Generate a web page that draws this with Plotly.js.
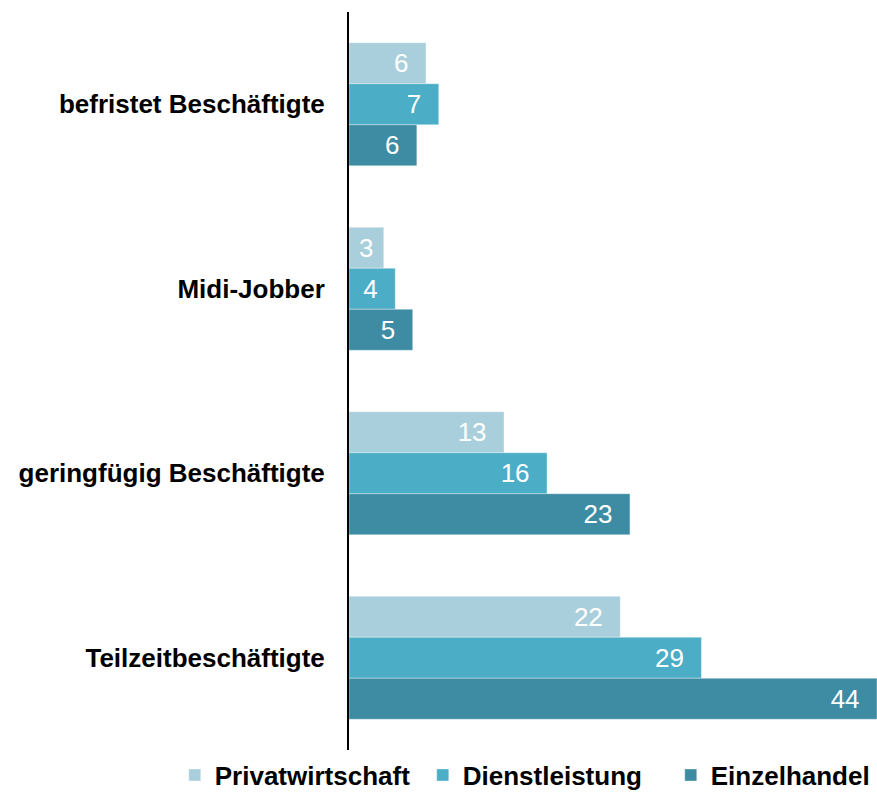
<!DOCTYPE html>
<html>
<head>
<meta charset="utf-8">
<script src="https://cdn.plot.ly/plotly-3.0.1.min.js"></script>
<style>html,body{margin:0;padding:0;background:#fff;}#chart{width:877px;height:792px;}</style>
</head>
<body>
<div id="chart"></div>
<script>
const categories = ['befristet Beschäftigte', 'Midi-Jobber', 'geringfügig Beschäftigte', 'Teilzeitbeschäftigte'];
const seriesNames = ['Privatwirtschaft', 'Dienstleistung', 'Einzelhandel'];
const privatwirtschaft = [6.36, 2.87, 12.8, 22.4];
const dienstleistung = [7.41, 3.82, 16.35, 29.1];
const einzelhandel = [5.6, 5.26, 23.2, 43.6];
const colors = ['#aacfdc', '#4badc6', '#3e8ca3'];

const FONT = 'Liberation Sans, Arial, sans-serif';
const NB = '\u00a0';

function labels(vals) {
  return vals.map(v => Math.round(v) + (v < 3.5 ? NB : NB + NB));
}

const allSeries = [privatwirtschaft, dienstleistung, einzelhandel];
const traces = allSeries.map((vals, i) => ({
  type: 'bar',
  orientation: 'h',
  name: seriesNames[i],
  y: categories,
  x: vals,
  text: labels(vals),
  texttemplate: '%{text}',
  textposition: 'inside',
  insidetextanchor: 'end',
  constraintext: 'none',
  textangle: 0,
  textfont: {family: FONT, size: 26, color: '#ffffff'},
  marker: {color: colors[i], line: {color: 'rgba(255,255,255,0.35)', width: 1}},
  hoverinfo: 'x+y+name'
}));

const layout = {
  width: 877,
  height: 792,
  paper_bgcolor: '#ffffff',
  plot_bgcolor: '#ffffff',
  margin: {l: 349, r: 0, t: 12, b: 42, autoexpand: false},
  barmode: 'group',
  bargap: 0.333,
  bargroupgap: 0,
  showlegend: true,
  legend: {
    orientation: 'h',
    x: -0.33, xanchor: 'left',
    y: -0.034, yanchor: 'middle',
    traceorder: 'normal',
    itemwidth: 30,
    entrywidth: 203,
    entrywidthmode: 'pixels',
    font: {family: FONT, size: 26, color: '#000000', weight: 'bold'},
    itemclick: false
  },
  xaxis: {
    range: [0, 43.6],
    showgrid: false, zeroline: false, showline: false,
    showticklabels: false, ticks: '', fixedrange: true
  },
  yaxis: {
    type: 'category',
    range: [3.5, -0.5],
    showgrid: false, zeroline: false,
    showline: true, linecolor: '#000000', linewidth: 2,
    ticks: '',
    ticklabelstandoff: 17,
    tickfont: {family: FONT, size: 26, color: '#000000', weight: 'bold'},
    fixedrange: true
  }
};

Plotly.newPlot('chart', traces, layout, {displayModeBar: false, staticPlot: true});
</script>
</body>
</html>
